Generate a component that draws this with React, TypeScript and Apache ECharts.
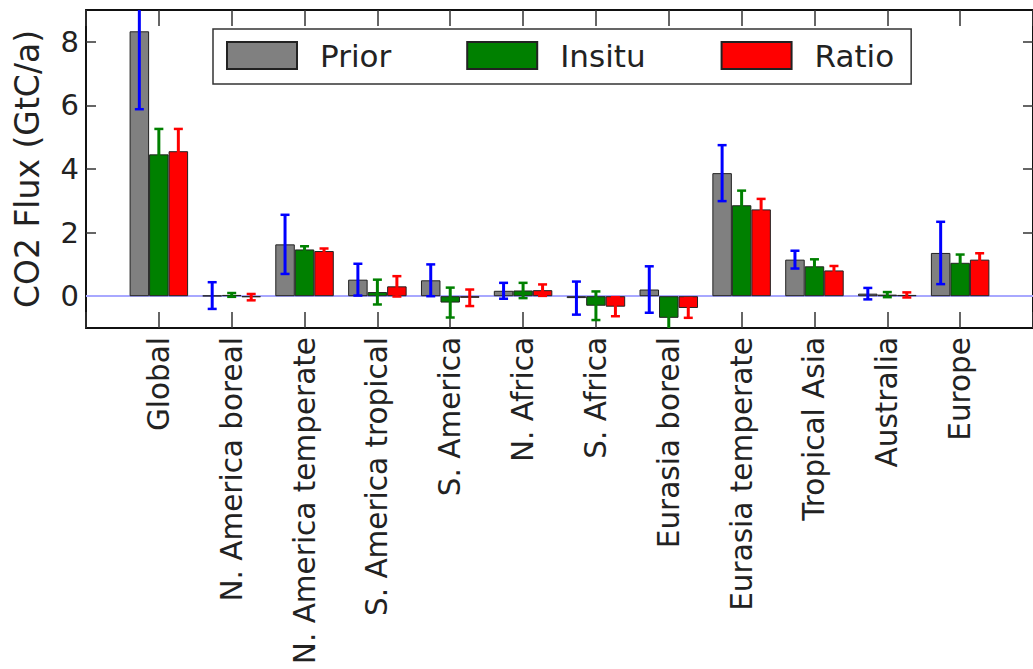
import React, { useEffect, useRef } from "react";
import * as echarts from "echarts";

const categories = [
  "Global",
  "N. America boreal",
  "N. America temperate",
  "S. America tropical",
  "S. America",
  "N. Africa",
  "S. Africa",
  "Eurasia boreal",
  "Eurasia temperate",
  "Tropical Asia",
  "Australia",
  "Europe",
];
const seriesNames = ["Prior", "Insitu", "Ratio"];
const prior = [8.33, 0.02, 1.63, 0.52, 0.5, 0.17, -0.06, 0.21, 3.87, 1.15, 0.08, 1.36];
const priorErr = [2.45, 0.42, 0.93, 0.5, 0.5, 0.25, 0.52, 0.73, 0.88, 0.28, 0.18, 0.98];
const insitu = [4.46, 0.04, 1.47, 0.13, -0.2, 0.18, -0.3, -0.68, 2.86, 0.94, 0.05, 1.05];
const insituErr = [0.8, 0.06, 0.1, 0.39, 0.47, 0.24, 0.45, 0.4, 0.46, 0.22, 0.08, 0.26];
const ratio = [4.56, -0.03, 1.42, 0.31, -0.05, 0.19, -0.33, -0.37, 2.73, 0.81, 0.04, 1.15];
const ratioErr = [0.7, 0.1, 0.08, 0.32, 0.26, 0.18, 0.3, 0.31, 0.33, 0.14, 0.08, 0.2];
const yTicks = [0, 2, 4, 6, 8];
const yMin = -1;
const yMax = 9;

const FONT = "DejaVu Sans";
const BAR_W = 19.5;

export default function App() {
  const ref = useRef<HTMLDivElement>(null);
  useEffect(() => {
    if (!ref.current) return;
    const chart = echarts.init(ref.current, null, { renderer: "svg" });
    const axisData = ["", ...categories, ""];
    const pad = (arr: number[]) => [null, ...arr, null];

    const errSeries = (vals: number[], errs: number[], color: string, slot: number) => ({
      type: "custom",
      name: "err" + slot,
      xAxisIndex: 0,
      yAxisIndex: 0,
      clip: true,
      z: 5,
      data: vals.map((v, i) => [i + 1, v - errs[i], v + errs[i]]),
      encode: { x: 0, y: [1, 2] },
      renderItem: (params: any, api: any) => {
        const xi = api.value(0);
        const lo = api.coord([xi, api.value(1)]);
        const hi = api.coord([xi, api.value(2)]);
        const cx = lo[0] + slot * BAR_W;
        const capW = 4.5;
        const st = { stroke: color, lineWidth: 3 };
        return {
          type: "group",
          children: [
            { type: "line", shape: { x1: cx, y1: lo[1], x2: cx, y2: hi[1] }, style: st },
            { type: "line", shape: { x1: cx - capW, y1: lo[1], x2: cx + capW, y2: lo[1] }, style: { ...st, lineWidth: 2.5 } },
            { type: "line", shape: { x1: cx - capW, y1: hi[1], x2: cx + capW, y2: hi[1] }, style: { ...st, lineWidth: 2.5 } },
          ],
        };
      },
    });

    const barBase = {
      type: "bar",
      barWidth: BAR_W,
      barGap: "0%",
      xAxisIndex: 0,
      yAxisIndex: 0,
    };

    chart.setOption({
      animation: false,
      textStyle: { fontFamily: FONT },
      legend: {
        data: seriesNames,
        left: 213,
        top: 29,
        orient: "horizontal",
        itemWidth: 70,
        itemHeight: 27,
        itemGap: 75,
        padding: [11, 17, 13, 13],
        borderColor: "#333",
        borderWidth: 1.5,
        borderRadius: 0,
        backgroundColor: "#fff",
        icon: "rect",
        textStyle: { fontSize: 31, color: "#222", fontFamily: FONT, padding: [0, 0, 0, 18] },
      },
      grid: { left: 86, top: 10, width: 949, height: 318, containLabel: false },
      xAxis: [
        {
          type: "category",
          data: axisData,
          boundaryGap: false,
          axisLine: { show: true, onZero: false, lineStyle: { color: "#111", width: 2 } },
          axisTick: { show: true, inside: true, length: 16, interval: 0, lineStyle: { color: "#333", width: 1.5 } },
          axisLabel: {
            show: true,
            interval: 0,
            rotate: 90,
            margin: 9,
            fontSize: 29.5,
            color: "#222",
            fontFamily: FONT,
          },
          splitLine: { show: false },
        },
        {
          type: "category",
          data: axisData,
          boundaryGap: false,
          position: "top",
          axisLine: { show: true, onZero: false, lineStyle: { color: "#111", width: 2 } },
          axisTick: { show: true, inside: true, length: 16, interval: 0, lineStyle: { color: "#333", width: 1.5 } },
          axisLabel: { show: false },
          splitLine: { show: false },
        },
      ],
      yAxis: [
        {
          type: "value",
          min: yMin,
          max: yMax,
          axisLine: { show: true, onZero: false, lineStyle: { color: "#111", width: 2 } },
          axisTick: { show: true, inside: true, length: 10, customValues: yTicks, lineStyle: { color: "#333", width: 1.5 } },
          axisLabel: { show: true, customValues: yTicks, margin: 7, fontSize: 29, color: "#222", fontFamily: FONT },
          splitLine: { show: false },
          name: "CO2 Flux (GtC/a)",
          nameLocation: "middle",
          nameGap: 42,
          nameTextStyle: { fontSize: 33, color: "#222", fontFamily: FONT },
        },
        {
          type: "value",
          min: yMin,
          max: yMax,
          position: "right",
          axisLine: { show: true, onZero: false, lineStyle: { color: "#111", width: 2 } },
          axisTick: { show: true, inside: true, length: 10, customValues: yTicks, lineStyle: { color: "#333", width: 1.5 } },
          axisLabel: { show: false },
          splitLine: { show: false },
        },
      ],
      series: [
        {
          ...barBase,
          name: seriesNames[0],
          data: pad(prior),
          itemStyle: { color: "#808080", borderColor: "#222", borderWidth: 1 },
          markLine: {
            silent: true,
            symbol: "none",
            label: { show: false },
            lineStyle: { color: "#a8a8ff", width: 2, type: "solid" },
            data: [{ yAxis: 0 }],
            z: 1,
          },
        },
        {
          ...barBase,
          name: seriesNames[1],
          data: pad(insitu),
          itemStyle: { color: "#008000", borderColor: "#222", borderWidth: 1 },
        },
        {
          ...barBase,
          name: seriesNames[2],
          data: pad(ratio),
          itemStyle: { color: "#ff0000", borderColor: "#222", borderWidth: 1 },
        },
        errSeries(prior, priorErr, "#0000ff", -1),
        errSeries(insitu, insituErr, "#008000", 0),
        errSeries(ratio, ratioErr, "#ff0000", 1),
      ],
    });
    return () => chart.dispose();
  }, []);
  return (
    <div
      ref={ref}
      style={{ position: "absolute", left: 0, top: 0, width: 1033, height: 669, background: "#fff" }}
    />
  );
}
